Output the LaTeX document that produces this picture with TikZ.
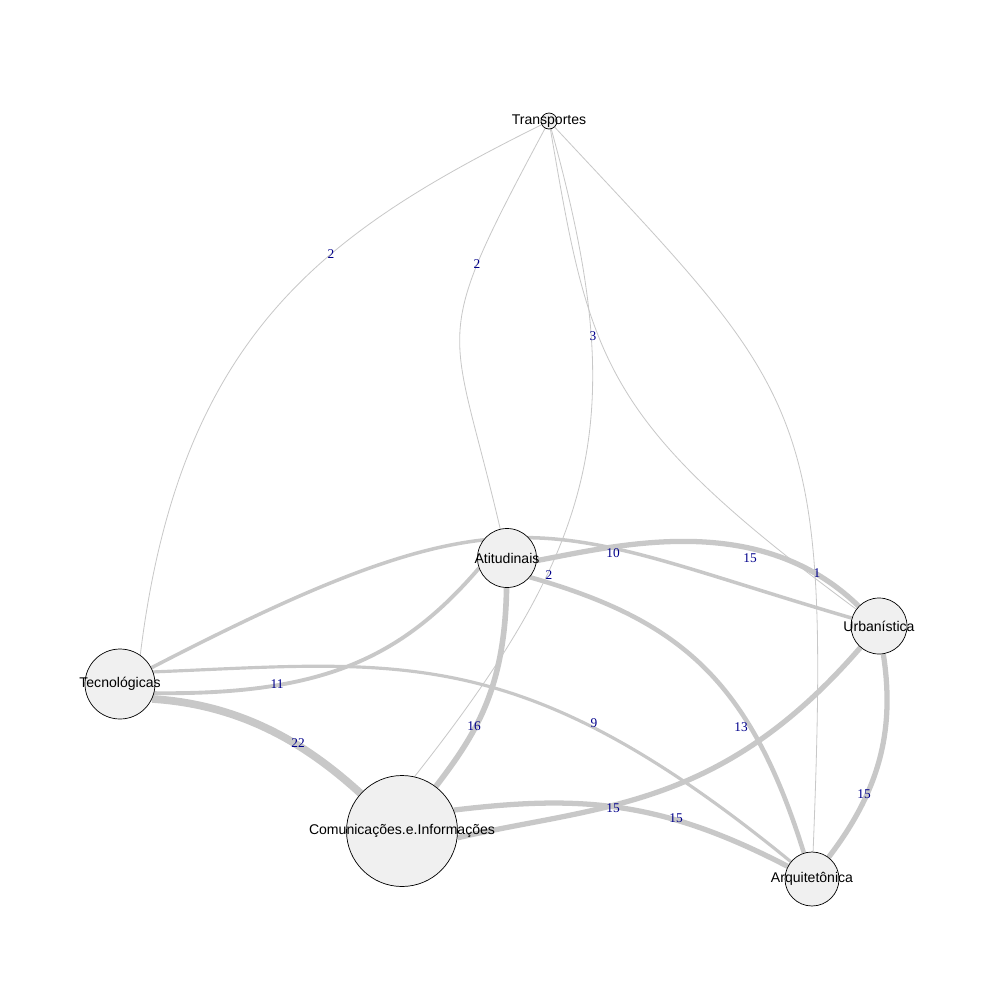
\documentclass[tikz,border=0pt]{standalone}
\usepackage{fontspec}
\setmainfont{Liberation Serif}
\setsansfont{Liberation Sans}
\usetikzlibrary{backgrounds}
\definecolor{edgegray}{RGB}{200,200,200}
\definecolor{nodefill}{RGB}{240,240,240}
\definecolor{lblblue}{RGB}{0,0,139}
\tikzset{
  vertex/.style={circle,draw=black,fill=nodefill,line width=0.6pt,inner sep=0pt,minimum size=#1*0.03cm},
  vname/.style={font=\sffamily\fontsize{12}{14}\selectfont,text=black},
  wedge/.style={draw=edgegray,line width=#1*0.3pt},
  thinedge/.style={draw=edgegray,line width=0.7pt},
  wlabel/.style={font=\fontsize{11.4}{13}\selectfont,text=lblblue,inner sep=0pt}
}

\begin{document}
\begin{tikzpicture}[x=0.03cm,y=-0.03cm]
  \useasboundingbox (0,0) rectangle (1000,1000);

  % vertices
  \node[vertex=16,label={[vname]center:Transportes}] (Tra) at (549,121) {};
  \node[vertex=59,label={[vname]center:Atitudinais}] (Ati) at (507,558) {};
  \node[vertex=56,label={[vname]center:Urbanística}] (Urb) at (879,626) {};
  \node[vertex=70,label={[vname]center:Tecnológicas}] (Tec) at (120,684) {};
  \node[vertex=111,label={[vname]center:Comunicações.e.Informações}] (Com) at (402,831) {};
  \node[vertex=54,label={[vname]center:Arquitetônica}] (Arq) at (812,879) {};

  % edges under the vertices
  \begin{scope}[on background layer]
    \draw[thinedge] (Tra) .. controls (330,230) and (180,330) .. (Tec.55);
    \draw[thinedge] (Tra) .. controls (427,349) and (451,317) .. (Ati);
    \draw[thinedge] (Tra) .. controls (631,417) and (601,540) .. (Com.77);
    \draw[thinedge] (Tra) .. controls (590,360) and (600,420) .. (Urb);
    \draw[thinedge] (Tra) .. controls (807,398) and (831,402) .. (Arq);
    \draw[wedge=22] (Tec.-25) .. controls (250,705) and (315,752) .. (Com);
    \draw[wedge=16] (Ati) .. controls (505,690) and (475,735) .. (Com);
    \draw[wedge=11] (Tec.-15) .. controls (320,695) and (400,660) .. (Ati.200);
    \draw[wedge=10] (Tec) .. controls (520,477) and (543,528) .. (Urb);
    \draw[wedge=9] (Tec.20) .. controls (400,662) and (520,640) .. (Arq);
    \draw[wedge=15] (Ati.-5) .. controls (620,545) and (760,510) .. (Urb);
    \draw[wedge=13] (Ati.-40) .. controls (680,620) and (750,680) .. (Arq);
    \draw[wedge=15] (Com.-7) .. controls (600,805) and (720,810) .. (Urb);
    \draw[wedge=15] (Com.22) .. controls (580,795) and (660,800) .. (Arq);
    \draw[wedge=15] (Urb) .. controls (895,730) and (880,790) .. (Arq);
  \end{scope}

  % weights
  \node[wlabel] (wTraTec) at (331,254) {2};
  \node[wlabel] (wTraAti) at (477,264) {2};
  \node[wlabel] (wTraUrb) at (593,336) {3};
  \node[wlabel] (wTraCom) at (549,575) {2};
  \node[wlabel] (wTraArq) at (817,573) {1};
  \node[wlabel] (wTecUrb) at (613,553) {10};
  \node[wlabel] (wAtiUrb) at (750,558) {15};
  \node[wlabel] (wTecAti) at (277,684) {11};
  \node[wlabel] (wTecCom) at (298,743) {22};
  \node[wlabel] (wAtiCom) at (474,726) {16};
  \node[wlabel] (wTecArq) at (594,723) {9};
  \node[wlabel] (wAtiArq) at (741,727) {13};
  \node[wlabel] (wComUrb) at (613,808) {15};
  \node[wlabel] (wComArq) at (676,818) {15};
  \node[wlabel] (wUrbArq) at (864,794) {15};
\end{tikzpicture}
\end{document}
